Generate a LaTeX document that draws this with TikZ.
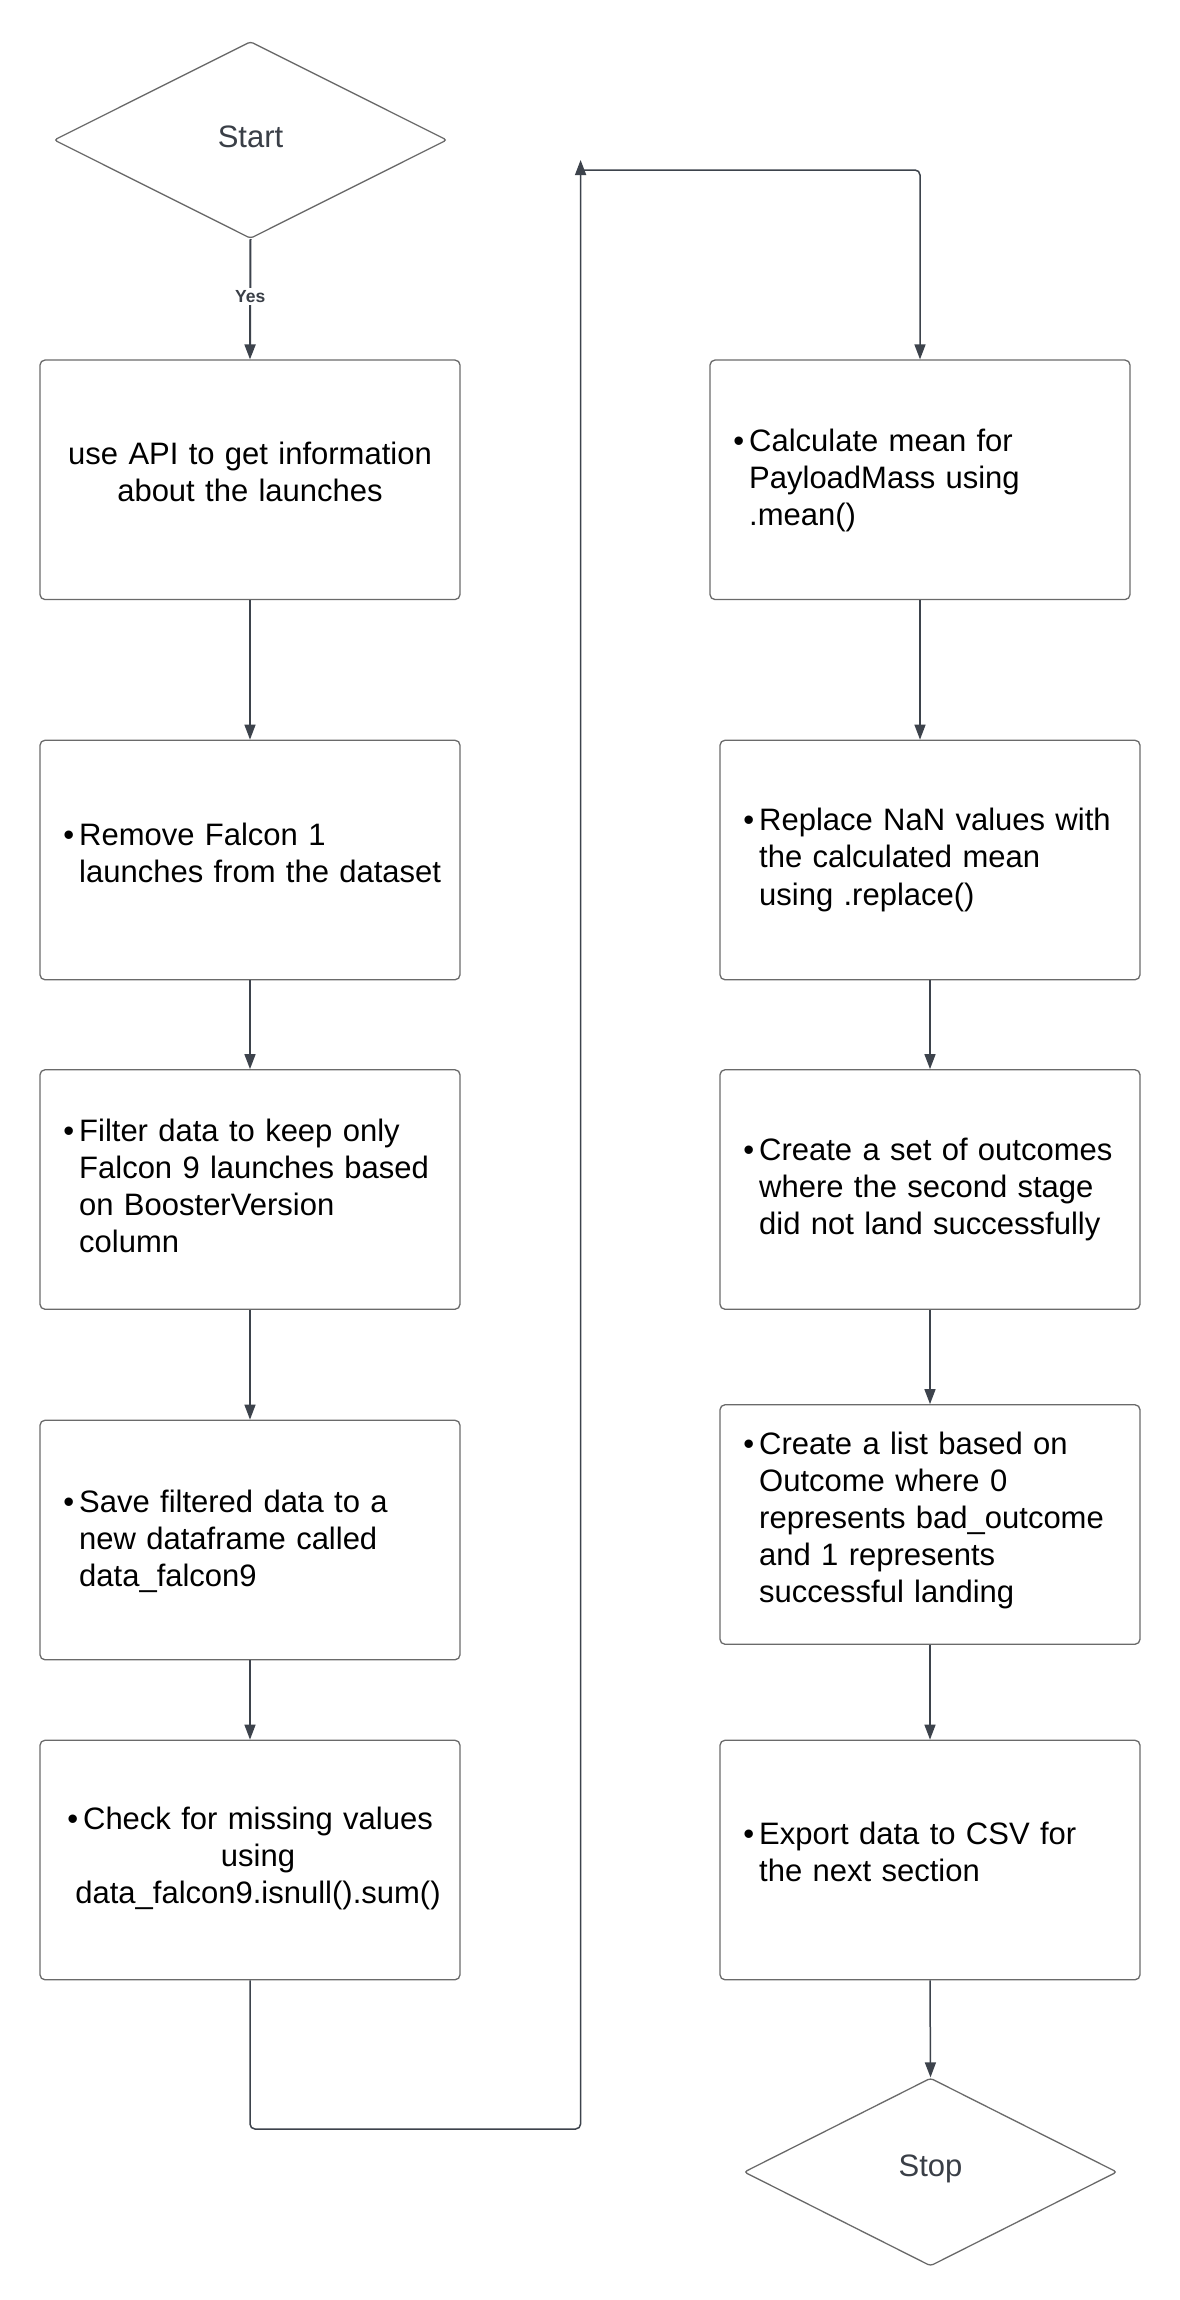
\documentclass[tikz,border=0pt]{standalone}
\usepackage{fontspec}
\setmainfont{Liberation Sans}
\usetikzlibrary{arrows.meta,shapes.geometric}
\definecolor{boxline}{HTML}{6A6A6A}
\definecolor{connline}{HTML}{3D434C}
\definecolor{termtext}{HTML}{3A3F47}
\begin{document}
\begin{tikzpicture}[x=1pt,y=-1pt,
  stepbox/.style={draw=boxline, line width=1.3pt, rounded corners=5pt, minimum width=420pt, minimum height=239.5pt, inner sep=0pt, fill=white},
  term/.style={diamond, draw=boxline, line width=1.3pt, rounded corners=3pt, inner sep=0pt, fill=white, text=termtext, font=\fontsize{31}{36}\selectfont},
  txt/.style={anchor=base west, text width=375pt, align=left, inner sep=0pt, font=\fontsize{31}{37.1}\selectfont},
  ctxt/.style={anchor=base, text width=410pt, align=center, inner sep=0pt, font=\fontsize{31}{37.1}\selectfont},
  conn/.style={draw=connline, line width=1.5pt, -{Triangle[width=11pt,length=15pt]}},
  yeslbl/.style={font=\bfseries\fontsize{17.5}{20}\selectfont, text=termtext, fill=white, inner sep=2pt},
]
\newcommand{\bul}{\llap{\textbullet\hspace{5pt}}}
\fill[white] (0,0) rectangle (1180,2300);
\useasboundingbox (0,0) rectangle (1180,2300);

% terminals
\node[term, minimum width=393pt, minimum height=197pt] (start) at (250.5,140) {\raisebox{7pt}{Start}};
\node[term, minimum width=373pt, minimum height=188pt] (stop) at (930.5,2172) {\raisebox{12pt}{Stop}};

% left column boxes
\node[stepbox] (b1) at (250,479.8) {};
\node[stepbox] (b2) at (250,860) {};
\node[stepbox] (b3) at (250,1189.5) {};
\node[stepbox] (b4) at (250,1540) {};
\node[stepbox] (b5) at (250,1860) {};
% right column boxes
\node[stepbox] (r1) at (920,479.8) {};
\node[stepbox] (r2) at (930,860) {};
\node[stepbox] (r3) at (930,1189.5) {};
\node[stepbox] (r4) at (930,1524.5) {};
\node[stepbox] (r5) at (930,1860) {};

% texts
\node[ctxt] (t1) at (250,464.2) {use API to get information\\about the launches};
\node[txt] (t2) at (79,845.5) {\bul Remove Falcon 1\\launches from the dataset};
\node[txt] (t3) at (79,1141) {\bul Filter data to keep only\\Falcon 9 launches based\\on BoosterVersion\\column};
\node[txt] (t4) at (79,1512.2) {\bul Save filtered data to a\\new dataframe called\\data\_falcon9};
\node[ctxt] (t5) at (258,1829.6) {\bul Check for missing values\\using\\data\_falcon9.isnull().sum()};
\node[txt] (s1) at (749,451) {\bul Calculate mean for\\PayloadMass using\\.mean()};
\node[txt] (s2) at (759,830.8) {\bul Replace NaN values with\\the calculated mean\\using .replace()};
\node[txt] (s3) at (759,1160.2) {\bul Create a set of outcomes\\where the second stage\\did not land successfully};
\node[txt] (s4) at (759,1454.3) {\bul Create a list based on\\Outcome where 0\\represents bad\_outcome\\and 1 represents\\successful landing};
\node[txt] (s5) at (759,1844.6) {\bul Export data to CSV for\\the next section};

% connectors
\draw[conn, line width=2pt] (start.south) -- node[yeslbl, pos=0.477] (yes) {Yes} (b1.north);
\draw[conn] (b1.south) -- (b2.north);
\draw[conn] (b2.south) -- (b3.north);
\draw[conn] (b3.south) -- (b4.north);
\draw[conn] (b4.south) -- (b5.north);

\coordinate (lb) at (580.6,2129);
\coordinate (lt) at (580.6,160);
\coordinate (tt) at (580.6,170);
\draw[conn, rounded corners=5pt] (b5.south) |- (lb) -- (lt);
\draw[conn, rounded corners=5pt] (tt) -| (r1.north);

\draw[conn] (r1.south) -- (r1.south |- r2.north);
\draw[conn] (r2.south) -- (r3.north);
\draw[conn] (r3.south) -- (r4.north);
\draw[conn] (r4.south) -- (r5.north);
\draw[conn] (r5.south) -- (stop.north);
\end{tikzpicture}
\end{document}
